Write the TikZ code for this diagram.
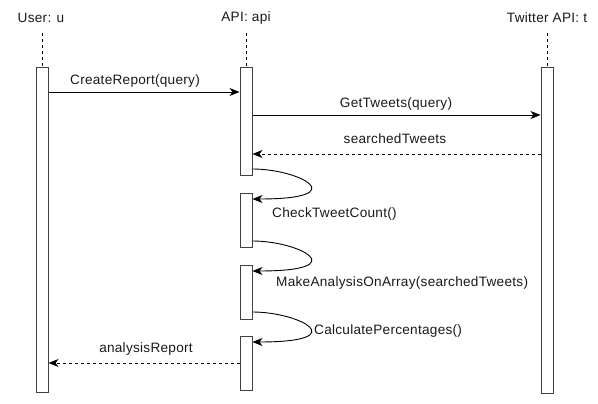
\documentclass[tikz,border=0pt]{standalone}
\usepackage{fontspec}
\setmainfont[LetterSpace=2]{Liberation Sans}
\usetikzlibrary{arrows.meta}
\begin{document}
\begin{tikzpicture}[x=1pt,y=-1pt,
  actbox/.style={draw=black!75, line width=1pt, fill=white, minimum width=12pt, inner sep=0pt, anchor=north},
  life/.style={draw=black, dash pattern=on 3pt off 3pt, line width=0.9pt},
  msg/.style={draw=black, line width=0.9pt, -{Stealth[length=10pt,width=8pt,inset=3pt]}},
  ret/.style={msg, dash pattern=on 3pt off 3pt},
  lbl/.style={font=\fontsize{13.6}{16}\selectfont, inner sep=0pt, text=black!90},
  ]
\useasboundingbox (0,0) rectangle (598,404);
% heads
\node[lbl] (uh) at (41,18) {User: u};
\node[lbl] (ah) at (246,18) {API: api};
\node[lbl] (th) at (547,18) {Twitter API: t};
% activation boxes
\node[actbox, minimum height=325pt] (u1) at (42,67) {};
\node[actbox, minimum height=108pt] (a1) at (246,67) {};
\node[actbox, minimum height=54pt] (a2) at (246,193) {};
\node[actbox, minimum height=54pt] (a3) at (246,265) {};
\node[actbox, minimum height=54pt] (a4) at (246,336) {};
\node[actbox, minimum height=326pt] (t1) at (547,67) {};
% lifelines
\draw[life] (u1.north |- 0,33) -- (u1.north);
\draw[life] (a1.north |- 0,33) -- (a1.north);
\draw[life] (t1.north |- 0,33) -- (t1.north);
% messages
\draw[msg] (u1.east |- 0,92) -- (a1.west |- 0,92);
\node[lbl] (l1) at (135,81) {CreateReport(query)};
\draw[msg] (a1.east |- 0,115) -- (t1.west |- 0,115);
\node[lbl] (l2) at (396,104) {GetTweets(query)};
\draw[ret] (t1.west |- 0,154) -- (a1.east |- 0,154);
\node[lbl] (l3) at (395,139) {searchedTweets};
% self calls
\draw[msg] (a1.east |- 0,169) .. controls (300,169) and (355,199) .. (a2.east |- 0,199);
\node[lbl, anchor=west] (l4) at (272,214) {CheckTweetCount()};
\draw[msg] (a2.east |- 0,241) .. controls (300,241) and (355,271) .. (a3.east |- 0,271);
\node[lbl, anchor=west] (l5) at (276,283) {MakeAnalysisOnArray(searchedTweets)};
\draw[msg] (a3.east |- 0,312) .. controls (300,312) and (355,342) .. (a4.east |- 0,342);
\node[lbl, anchor=west] (l6) at (314,331) {CalculatePercentages()};
% return
\draw[ret] (a4.west |- 0,363) -- (u1.east |- 0,363);
\node[lbl] (l7) at (146,349) {analysisReport};
\end{tikzpicture}
\end{document}
